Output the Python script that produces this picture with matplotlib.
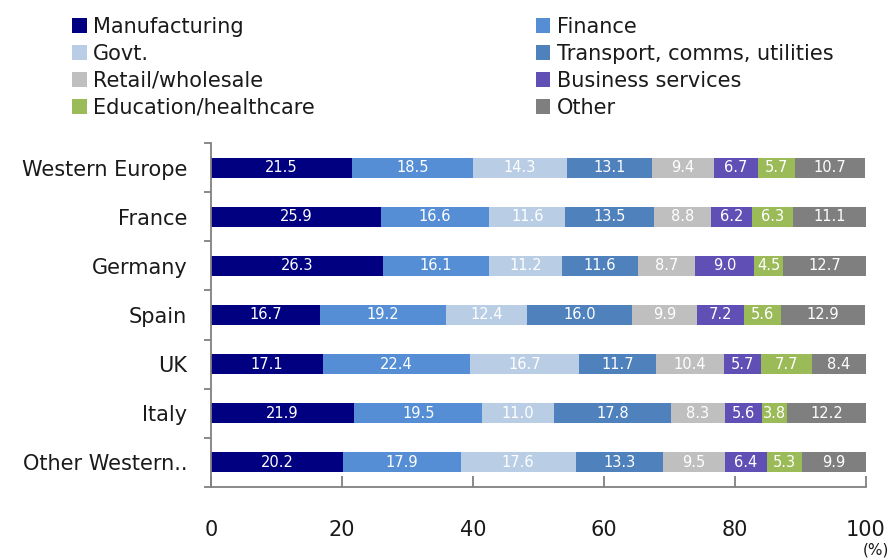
import numpy as np
import matplotlib
matplotlib.use("Agg")
import matplotlib.pyplot as plt
from matplotlib.patches import Patch

plt.rcParams['font.family'] = ['DejaVu Sans']

# Share of employment by sector, per country
countries = ['Western Europe', 'France', 'Germany', 'Spain', 'UK', 'Italy', 'Other Western..']
sectors = ['Manufacturing', 'Finance', 'Govt.', 'Transport, comms, utilities',
           'Retail/wholesale', 'Business services', 'Education/healthcare', 'Other']

manufacturing = [21.5, 25.9, 26.3, 16.7, 17.1, 21.9, 20.2]
finance = [18.5, 16.6, 16.1, 19.2, 22.4, 19.5, 17.9]
govt = [14.3, 11.6, 11.2, 12.4, 16.7, 11.0, 17.6]
transport = [13.1, 13.5, 11.6, 16.0, 11.7, 17.8, 13.3]
retail = [9.4, 8.8, 8.7, 9.9, 10.4, 8.3, 9.5]
business = [6.7, 6.2, 9.0, 7.2, 5.7, 5.6, 6.4]
education = [5.7, 6.3, 4.5, 5.6, 7.7, 3.8, 5.3]
other = [10.7, 11.1, 12.7, 12.9, 8.4, 12.2, 9.9]

series = [manufacturing, finance, govt, transport, retail, business, education, other]
colors = ['#000080', '#558ED5', '#B9CDE5', '#4F81BD', '#BFBFBF', '#604FB5', '#9BBB59', '#7F7F7F']

fig = plt.figure(figsize=(8.9, 5.59), dpi=100)
ax = fig.add_axes([0.237, 0.129, 0.736, 0.615])

y = np.arange(len(countries))
left = np.zeros(len(countries))
for vals, col in zip(series, colors):
    vals = np.array(vals)
    ax.barh(y, vals, left=left, height=0.41, color=col, edgecolor='none')
    for yi, l, v in zip(y, left, vals):
        ax.text(l + v / 2, yi, f'{v:.1f}', ha='center', va='center',
                color='white', fontsize=10.5)
    left += vals

ax.set_xlim(0, 100)
ax.set_ylim(len(countries) - 0.5, -0.5)

ax.set_yticks(y)
ax.set_yticklabels(countries, fontsize=15, color='#1a1a1a')
ax.set_yticks(np.arange(-0.5, len(countries)), minor=True)
ax.tick_params(axis='y', which='major', length=0, pad=17)
ax.tick_params(axis='y', which='minor', length=5, width=1.3, color='#808080', direction='out')

ax.set_xticks([0, 20, 40, 60, 80, 100])
ax.tick_params(axis='x', length=8, width=1.3, color='#808080', direction='in',
               pad=24, labelsize=15, labelcolor='#1a1a1a')

for side in ['top', 'right']:
    ax.spines[side].set_visible(False)
for side in ['left', 'bottom']:
    ax.spines[side].set_color('#808080')
    ax.spines[side].set_linewidth(1.3)

fig.text(0.999, 0.002, '(%)', ha='right', va='bottom', fontsize=11, color='#1a1a1a')

# two legend columns, each placed on its own
legend_kw = dict(loc='upper left', frameon=False, fontsize=15, handlelength=0.7,
                 handleheight=0.7, handletextpad=0.3, labelspacing=0.33,
                 labelcolor='#1a1a1a')
for idx, x0 in [([0, 2, 4, 6], 0.060), ([1, 3, 5, 7], 0.581)]:
    handles = [Patch(facecolor=colors[i], edgecolor='none') for i in idx]
    fig.legend(handles, [sectors[i] for i in idx], bbox_to_anchor=(x0, 1.003), **legend_kw)

fig.savefig('out.png', dpi=100)
